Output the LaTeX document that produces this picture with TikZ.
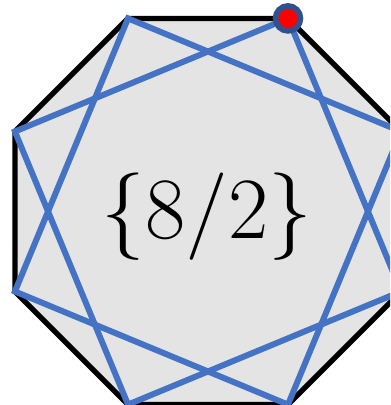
\documentclass[tikz,border=0pt]{standalone}
\usepackage{tikz}
\usetikzlibrary{calc}
\definecolor{starblue}{RGB}{68,114,196}
\definecolor{dotrim}{RGB}{47,82,143}
\definecolor{octfill}{RGB}{228,228,228}

\begin{document}
\begin{tikzpicture}[
    octagon/.style={draw=black, fill=octfill, line width=1.5pt, line join=miter},
    starline/.style={starblue, line width=1.7pt, line join=miter},
    marker/.style={circle, fill=red, draw=dotrim, line width=1.6pt,
                   minimum size=0.25cm, inner sep=0pt},
    label/.style={font=\fontsize{26}{30}\selectfont}
]
\useasboundingbox (0,0) rectangle (3.9,4.05);
\clip (0,0) rectangle (3.9,4.05);

\coordinate (c) at (2.08,1.935);
\foreach \k in {1,...,8}
    \coordinate (v\k) at ($(c)+({22.5+45*(\k-1)}:2.09)$);

% octagon
\draw[octagon] (v1) -- (v2) -- (v3) -- (v4) -- (v5) -- (v6) -- (v7) -- (v8) -- cycle;

% the two squares of {8/2}
\draw[starline] (v1) -- (v3) -- (v5) -- (v7) -- cycle;
\draw[starline] (v2) -- (v4) -- (v6) -- (v8) -- cycle;

\node[label] (name) at (2.07,1.88) {$\{8/2\}$};
\node[marker] (start) at (v2) {};
\end{tikzpicture}
\end{document}
